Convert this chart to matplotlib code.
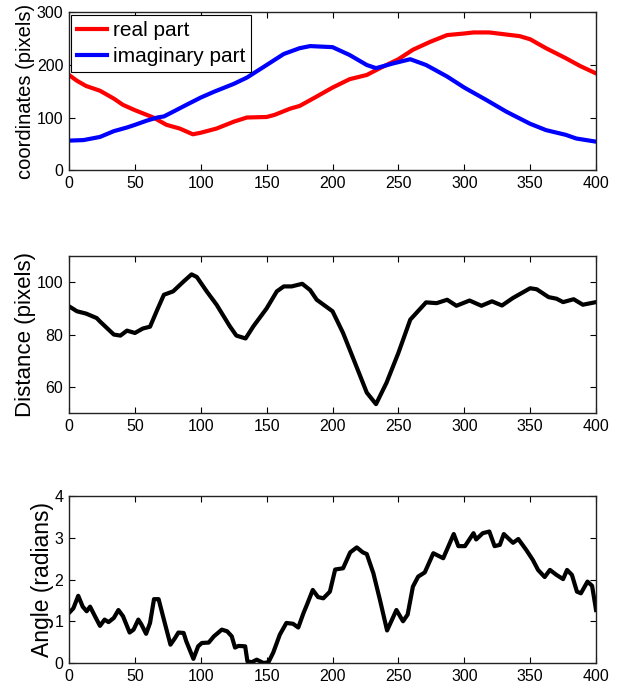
import numpy as np
import matplotlib
matplotlib.use('Agg')
import matplotlib.pyplot as plt

plt.rcParams['font.family'] = ['Liberation Sans', 'DejaVu Sans']
plt.rcParams['font.size'] = 11

# real part (red)
real_x = [0, 6, 13, 23.5, 34, 41, 50, 57, 64, 74, 84, 94, 100, 112, 125, 135, 150, 156, 168, 175,
          183, 188, 200, 213, 226, 236, 250, 261, 274, 287, 300, 307, 319, 332, 342, 350, 362, 377, 388, 400]
real_y = [181, 170, 160, 151, 136, 124, 114, 107, 100, 86, 79, 68, 71, 79, 92, 100, 101, 105, 117, 122,
          133, 140, 157, 173, 181, 194, 211, 229, 244, 257, 260, 262, 262, 258, 255, 249, 232, 213, 198, 184]

# imaginary part (blue)
imag_x = [0, 11, 23.5, 34, 44, 50, 59, 67, 72, 79, 89, 100, 110, 125, 135, 150, 163, 175, 183, 200,
          213, 226, 233, 246, 259, 271, 287, 300, 317, 332, 350, 362, 377, 385, 400]
imag_y = [56, 57, 63, 74, 81, 86, 94, 100, 102, 111, 124, 138, 149, 164, 176, 200, 221, 232, 236, 234,
          219, 200, 194, 203, 211, 200, 178, 157, 133, 111, 88, 76, 67, 60, 54]

# distance
dist_x = [0, 6, 13, 21, 23.5, 34, 39, 44, 50, 56, 61.5, 67, 72, 79, 87, 93, 97, 104.5, 112, 122, 127,
          134, 140, 150, 157.7, 163, 169, 177, 183, 188, 200, 208, 216, 226, 233, 241, 250, 259, 271,
          279, 287, 294, 304, 313, 321, 328.6, 337, 350, 355, 364, 370, 375, 383, 390, 400]
dist_y = [90.8, 88.9, 88, 86.3, 85, 80, 79.6, 81.5, 80.6, 82.3, 83, 89.5, 95.2, 96.5, 100.3, 103, 102,
          96.5, 91.4, 83.2, 79.6, 78.5, 83.2, 90, 96.5, 98.4, 98.4, 99.4, 97, 93.3, 88.9, 80.6, 70.5,
          57.8, 53.4, 61.6, 73, 85.7, 92.3, 92, 93.3, 91, 93, 91, 92.7, 91.1, 94, 97.7, 97.3, 94.3, 93.7,
          92.4, 93.5, 91.4, 92.4]

# angle
ang_x = [0, 3.3, 7, 10.4, 13.4, 16, 19.7, 23.5, 27, 30, 34, 37.5, 41, 46, 49, 52.6, 55, 58.5, 61.5,
         64.5, 68, 72, 77, 80.5, 83, 87, 89, 94.4, 98, 100.8, 106, 110, 116, 120, 123.5, 126, 128.6,
         133.7, 135.4, 138.7, 142.5, 147.6, 151.4, 155, 160, 165, 170, 174, 178, 180.5, 185, 189, 193,
         198, 202, 208, 213.4, 218.4, 223, 226, 231, 236, 241.4, 248.5, 253.5, 257, 261, 265, 270,
         276.5, 284, 292, 295.5, 300.5, 307, 309, 314, 319, 323, 327, 330, 334.6, 337, 341, 347, 352,
         356, 361, 365, 370, 375, 378, 381.7, 385.5, 388.5, 393.5, 397, 400]
ang_y = [1.2, 1.31, 1.61, 1.35, 1.24, 1.35, 1.12, 0.89, 1.04, 0.98, 1.08, 1.27, 1.12, 0.73, 0.8, 1.04,
         0.92, 0.7, 0.96, 1.53, 1.53, 1.04, 0.44, 0.6, 0.73, 0.72, 0.52, 0.1, 0.4, 0.48, 0.49, 0.64, 0.8,
         0.76, 0.64, 0.37, 0.41, 0.4, 0.04, 0.02, 0.08, 0.0, 0.02, 0.25, 0.68, 0.96, 0.94, 0.85, 1.2, 1.39,
         1.75, 1.58, 1.55, 1.71, 2.24, 2.27, 2.65, 2.77, 2.65, 2.61, 2.15, 1.51, 0.78, 1.27, 1.0, 1.16,
         1.83, 2.07, 2.17, 2.63, 2.51, 3.09, 2.8, 2.8, 3.11, 2.96, 3.11, 3.15, 2.8, 2.83, 3.09, 2.95,
         2.88, 2.97, 2.71, 2.47, 2.23, 2.06, 2.23, 2.11, 2.01, 2.23, 2.11, 1.71, 1.67, 1.95, 1.85, 1.27]

xticks = [0, 50, 100, 150, 200, 250, 300, 350, 400]

fig = plt.figure(figsize=(6.24, 6.9), dpi=100)
ax1 = fig.add_axes([0.1106, 0.7536, 0.8446, 0.2283])
ax2 = fig.add_axes([0.1106, 0.4014, 0.8446, 0.2275])
ax3 = fig.add_axes([0.1106, 0.0391, 0.8446, 0.2420])


def style(ax):
    ax.set_xlim(0, 400)
    ax.set_xticks(xticks)
    ax.tick_params(direction='in', top=True, right=True, length=4, width=0.8,
                   labelsize=11.5, pad=4, colors='black')
    for s in ax.spines.values():
        s.set_linewidth(1.0)
        s.set_color('#222222')


ax1.plot(real_x, real_y, color='red', lw=3, label='real part')
ax1.plot(imag_x, imag_y, color='blue', lw=3, label='imaginary part')
style(ax1)
ax1.set_ylim(0, 300)
ax1.set_yticks([0, 100, 200, 300])
ax1.set_ylabel('coordinates (pixels)', fontsize=14.5, labelpad=1.5)
leg = ax1.legend(loc='upper left', fontsize=15, handlelength=1.4, handletextpad=0.3,
                 borderaxespad=0.1, borderpad=0.3, labelspacing=0.35, fancybox=False,
                 framealpha=1, edgecolor='black')
leg.get_frame().set_linewidth(0.8)

ax2.plot(dist_x, dist_y, color='black', lw=3)
style(ax2)
ax2.set_ylim(50, 110)
ax2.set_yticks([60, 80, 100])
ax2.set_ylabel('Distance (pixels)', fontsize=16, labelpad=0.5)

ax3.plot(ang_x, ang_y, color='black', lw=3)
style(ax3)
ax3.set_ylim(0, 4)
ax3.set_yticks([0, 1, 2, 3, 4])
ax3.set_ylabel('Angle (radians)', fontsize=16.5, labelpad=0.5)

fig.savefig('out.png', dpi=100)
